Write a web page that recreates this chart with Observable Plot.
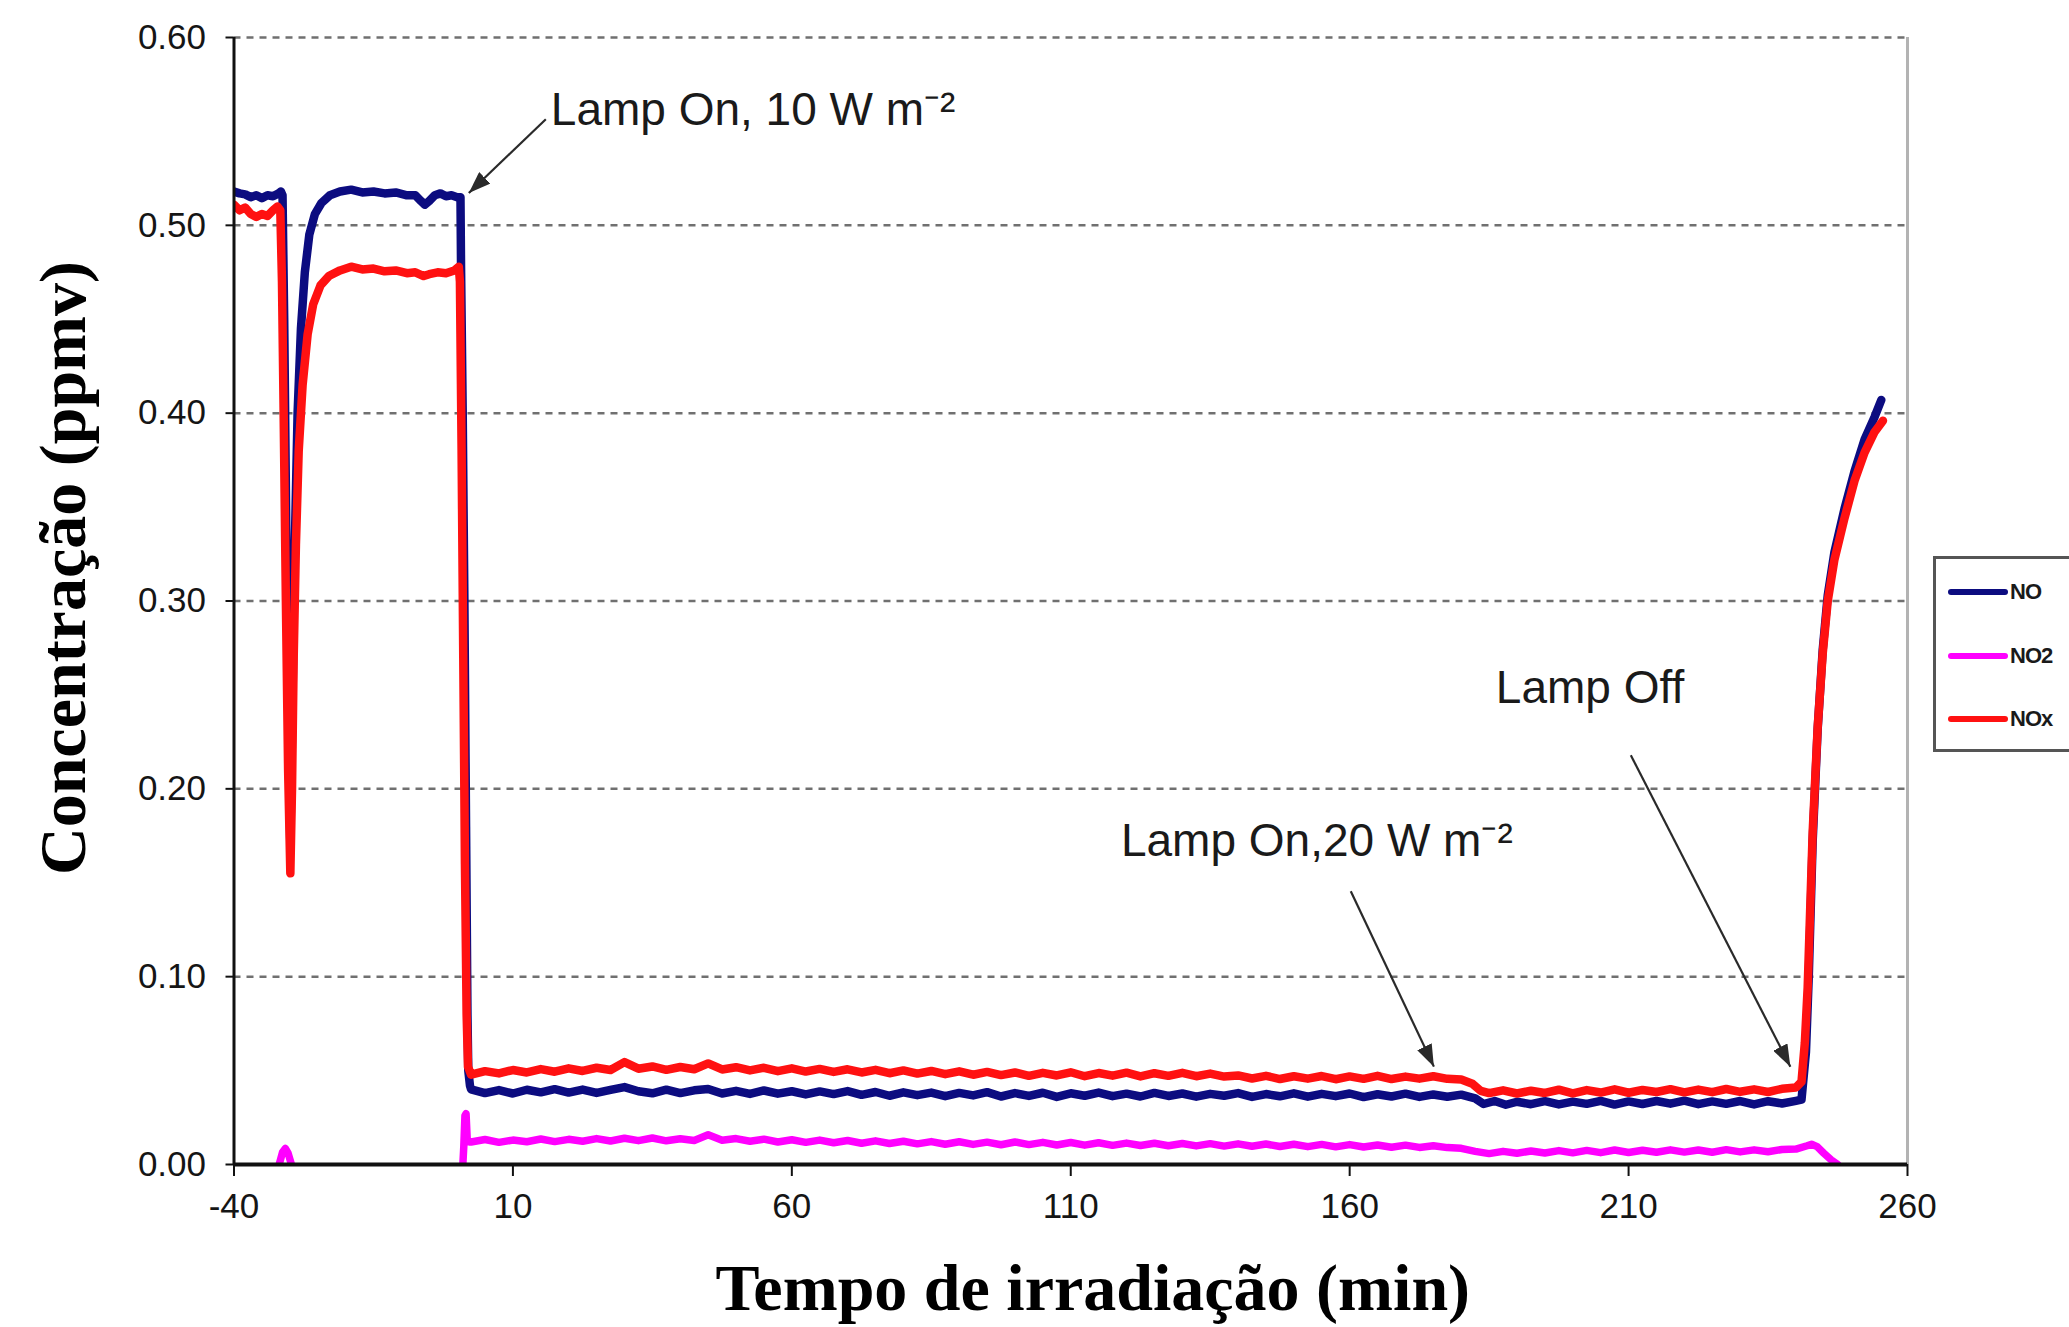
<!DOCTYPE html>
<html>
<head>
<meta charset="utf-8">
<script src="https://cdn.jsdelivr.net/npm/d3@7"></script>
<script src="https://cdn.jsdelivr.net/npm/@observablehq/plot@0.6"></script>
<style>
  html, body { margin: 0; padding: 0; background: #fff; overflow: hidden; }
  #wrap { position: relative; width: 2069px; height: 1327px; overflow: hidden; background: #fff; }
  #legend { position: absolute; left: 1933px; top: 556px; width: 170px; height: 190px;
            border: 3px solid #555; background: #fff; font-family: "Liberation Sans", Arial, sans-serif; }
  .lg-row { position: absolute; left: 12px; height: 0; }
  .lg-line { position: absolute; left: 0; top: -3px; width: 60px; height: 6px; border-radius: 3px; }
  .lg-text { position: absolute; left: 62px; top: -13px; font-size: 22px; letter-spacing: -1px; color: #1a1a1a; line-height: 26px; font-weight: bold; }
</style>
</head>
<body>
<div id="wrap"></div>
<script>
// ---------------- data ----------------
const xTicks = [-40, 10, 60, 110, 160, 210, 260];
const yTicks = [0, 0.1, 0.2, 0.3, 0.4, 0.5, 0.6];
const gridValues = [0.1, 0.2, 0.3, 0.4, 0.5, 0.6];

const seriesNames = ["NO", "NO2", "NOx"];
const seriesColors = ["#0c0c80", "#ff00ff", "#ff1111"];

// NO  [time (min), concentration (ppmv)]
const NO = [
  [-40,0.518],[-39,0.517],[-38,0.5165],[-37,0.515],[-36,0.516],[-35,0.5145],[-34,0.516],[-33,0.5155],[-32,0.517],[-31.6,0.518],[-31.3,0.516],
  [-31.0,0.45],[-30.6,0.33],[-30.2,0.22],[-29.9,0.17],
  [-29.5,0.25],[-29.1,0.33],[-28.6,0.40],[-28.0,0.445],[-27.3,0.475],[-26.5,0.495],[-25.5,0.506],[-24.3,0.512],[-22.8,0.516],
  [-21,0.518],[-19,0.519],[-17,0.5175],[-15,0.518],[-13,0.517],[-11,0.5175],[-9,0.516],[-7.5,0.516],[-6.5,0.513],[-5.8,0.511],
  [-5.0,0.513],[-4,0.516],[-3,0.517],[-2,0.5155],[-1,0.516],[0,0.515],[0.6,0.515],
  [0.7,0.478],[1.0,0.40],[1.3,0.30],[1.6,0.18],[1.85,0.08],[2.0,0.05],[2.3,0.042],
  [2.5,0.0400],[5,0.0380],[7.5,0.0396],[10,0.0378],[12.5,0.0398],[15,0.0384],[17.5,0.0401],[20,0.0383],[22.5,0.0399],[25,0.0381],
  [27.5,0.0397],[30,0.0412],[32.5,0.0390],[35,0.0379],[37.5,0.0398],[40,0.0380],[42.5,0.0395],[45,0.0402],[47.5,0.0378],[50,0.0392],
  [52.5,0.0376],[55,0.0394],[57.5,0.0377],[60,0.0390],[62.5,0.0373],[65,0.0389],[67.5,0.0375],[70,0.0391],[72.5,0.0371],[75,0.0386],
  [77.5,0.0366],[80,0.0384],[82.5,0.0369],[85,0.0383],[87.5,0.0364],[90,0.0381],[92.5,0.0368],[95,0.0385],[97.5,0.0362],[100,0.0380],
  [102.5,0.0365],[105,0.0382],[107.5,0.0360],[110,0.0379],[112.5,0.0366],[115,0.0383],[117.5,0.0364],[120,0.0377],[122.5,0.0362],[125,0.0381],
  [127.5,0.0365],[130,0.0378],[132.5,0.0361],[135,0.0376],[137.5,0.0366],[140,0.0380],[142.5,0.0360],[145,0.0375],[147.5,0.0363],[150,0.0379],
  [152.5,0.0361],[155,0.0376],[157.5,0.0364],[160,0.0378],[162.5,0.0359],[165,0.0374],[167.5,0.0362],[170,0.0377],[172.5,0.0360],[175,0.0373],
  [177.5,0.0361],[180,0.0372],[182.5,0.0352],[184,0.0322],[186,0.0338],[188,0.0318],[190,0.0334],[192.5,0.0321],[195,0.0337],[197.5,0.0320],
  [200,0.0335],[202.5,0.0323],[205,0.0339],[207.5,0.0319],[210,0.0336],[212.5,0.0322],[215,0.0338],[217.5,0.0324],[220,0.0340],[222.5,0.0321],
  [225,0.0336],[227.5,0.0323],[230,0.0338],[232.5,0.0320],[235,0.0337],[237.5,0.0325],[240,0.0339],[241,0.0345],
  [241.8,0.060],[242.3,0.10],[243,0.172],[243.9,0.232],[244.8,0.274],[245.7,0.303],[246.9,0.326],[248.7,0.349],[250.5,0.369],[252.3,0.386],[254.1,0.398],[255.3,0.407]
];

// NO2
const NO2 = [
  [-40,-0.007],[-32.4,-0.007],[-31.9,0.0],[-31.3,0.0065],[-30.8,0.0085],[-30.3,0.006],[-29.7,0.0],[-29.2,-0.007],
  [0.9,-0.007],[1.2,0.010],[1.4,0.026],[1.6,0.027],[1.8,0.014],[2.2,0.012],
  [2.5,0.0120],[5,0.0133],[7.5,0.0118],[10,0.0130],[12.5,0.0121],[15,0.0136],[17.5,0.0122],[20,0.0134],[22.5,0.0124],[25,0.0138],
  [27.5,0.0125],[30,0.0140],[32.5,0.0127],[35,0.0141],[37.5,0.0126],[40,0.0137],[42.5,0.0128],[45,0.0158],[47.5,0.0129],[50,0.0138],
  [52.5,0.0124],[55,0.0135],[57.5,0.0120],[60,0.0132],[62.5,0.0118],[65,0.0130],[67.5,0.0116],[70,0.0128],[72.5,0.0113],[75,0.0126],
  [77.5,0.0112],[80,0.0124],[82.5,0.0110],[85,0.0122],[87.5,0.0108],[90,0.0121],[92.5,0.0107],[95,0.0119],[97.5,0.0105],[100,0.0120],
  [102.5,0.0106],[105,0.0118],[107.5,0.0104],[110,0.0117],[112.5,0.0103],[115,0.0116],[117.5,0.0102],[120,0.0114],[122.5,0.0101],[125,0.0113],
  [127.5,0.0100],[130,0.0112],[132.5,0.0099],[135,0.0111],[137.5,0.0098],[140,0.0110],[142.5,0.0097],[145,0.0109],[147.5,0.0096],[150,0.0108],
  [152.5,0.0095],[155,0.0107],[157.5,0.0094],[160,0.0106],[162.5,0.0093],[165,0.0104],[167.5,0.0092],[170,0.0103],[172.5,0.0091],[175,0.0100],
  [177.5,0.0090],[180,0.0086],[182.5,0.0070],[185,0.0058],[187.5,0.0070],[190,0.0060],[192.5,0.0072],[195,0.0061],[197.5,0.0074],[200,0.0062],
  [202.5,0.0075],[205,0.0063],[207.5,0.0077],[210,0.0064],[212.5,0.0076],[215,0.0065],[217.5,0.0078],[220,0.0066],[222.5,0.0077],[225,0.0065],
  [227.5,0.0079],[230,0.0067],[232.5,0.0078],[235,0.0068],[237.5,0.0080],[240,0.0082],[242,0.0100],[242.8,0.0108],[243.8,0.0095],
  [245,0.0060],[246.3,0.0025],[247.5,0.0],[248.5,-0.007],[255.5,-0.007]
];

// NOx
const NOx = [
  [-40,0.511],[-39,0.508],[-38,0.5095],[-37,0.506],[-36,0.5045],[-35,0.506],[-34,0.505],[-33,0.508],[-32.2,0.510],[-31.7,0.508],
  [-31.4,0.47],[-31.1,0.40],[-30.7,0.30],[-30.3,0.21],[-29.9,0.155],
  [-29.6,0.20],[-29.3,0.27],[-28.9,0.33],[-28.4,0.38],[-27.7,0.415],[-26.8,0.442],[-25.8,0.458],[-24.5,0.468],[-23,0.473],
  [-21,0.476],[-19,0.478],[-17,0.4765],[-15,0.477],[-13,0.4755],[-11,0.476],[-9,0.4745],[-7.5,0.475],[-6,0.473],[-5,0.474],
  [-3.5,0.475],[-2,0.4745],[-0.5,0.476],[0.3,0.478],
  [0.5,0.47],[0.8,0.38],[1.1,0.27],[1.4,0.16],[1.7,0.08],[1.95,0.052],
  [2.5,0.0478],[5,0.0497],[7.5,0.0485],[10,0.0503],[12.5,0.0490],[15,0.0508],[17.5,0.0494],[20,0.0512],[22.5,0.0498],[25,0.0515],
  [27.5,0.0503],[30,0.0545],[32.5,0.0510],[35,0.0522],[37.5,0.0504],[40,0.0519],[42.5,0.0507],[45,0.0538],[47.5,0.0506],[50,0.0518],
  [52.5,0.0501],[55,0.0515],[57.5,0.0497],[60,0.0512],[62.5,0.0495],[65,0.0509],[67.5,0.0493],[70,0.0507],[72.5,0.0490],[75,0.0504],
  [77.5,0.0486],[80,0.0501],[82.5,0.0484],[85,0.0498],[87.5,0.0481],[90,0.0496],[92.5,0.0478],[95,0.0493],[97.5,0.0476],[100,0.0490],
  [102.5,0.0472],[105,0.0488],[107.5,0.0474],[110,0.0491],[112.5,0.0470],[115,0.0487],[117.5,0.0473],[120,0.0489],[122.5,0.0469],[125,0.0486],
  [127.5,0.0472],[130,0.0488],[132.5,0.0470],[135,0.0484],[137.5,0.0468],[140,0.0474],[142.5,0.0458],[145,0.0472],[147.5,0.0455],[150,0.0470],
  [152.5,0.0457],[155,0.0471],[157.5,0.0454],[160,0.0469],[162.5,0.0456],[165,0.0472],[167.5,0.0455],[170,0.0468],[172.5,0.0457],[175,0.0470],
  [177.5,0.0456],[180,0.0452],[182,0.0430],[183.5,0.0392],[185,0.0380],[187.5,0.0395],[190,0.0378],[192.5,0.0393],[195,0.0381],[197.5,0.0398],
  [200,0.0379],[202.5,0.0396],[205,0.0383],[207.5,0.0400],[210,0.0382],[212.5,0.0397],[215,0.0386],[217.5,0.0401],[220,0.0384],[222.5,0.0399],
  [225,0.0385],[227.5,0.0402],[230,0.0387],[232.5,0.0400],[235,0.0386],[237.5,0.0403],[240,0.0410],[241,0.0440],
  [241.6,0.065],[242.1,0.094],[243,0.177],[243.9,0.233],[244.8,0.272],[245.7,0.300],[246.9,0.322],[248.7,0.344],[250.5,0.364],[252.3,0.379],[254.1,0.390],[255.6,0.396]
];

// annotations
const noteLabels = ["Lamp On, 10 W m\u207B\u00B2", "Lamp On,20 W m\u207B\u00B2", "Lamp Off"];
const noteT = [16.8, 119.0, 186.2];
const noteV = [0.5614, 0.1722, 0.2537];
const arrowT1 = [15.9, 160.2, 210.4];
const arrowV1 = [0.5565, 0.1455, 0.2179];
const arrowT2 = [2.1, 175.1, 239.0];
const arrowV2 = [0.5172, 0.0521, 0.0521];

const xTitle = "Tempo de irradiação (min)";
const yTitle = "Concentração (ppmv)";

// ---------------- chart ----------------
const notes = noteLabels.map((label, i) => ({label, t: noteT[i], v: noteV[i]}));
const arrows = arrowT1.map((t1, i) => ({t1, v1: arrowV1[i], t2: arrowT2[i], v2: arrowV2[i]}));
const seriesData = [NO, NO2, NOx];
const seriesWidths = [8.5, 7.5, 8.5];

function arrowHead(color, context) {
  const doc = (context && context.document) || document;
  const ns = "http://www.w3.org/2000/svg";
  const m = doc.createElementNS(ns, "marker");
  m.setAttribute("viewBox", "0 -4 11 8");
  m.setAttribute("refX", "11");
  m.setAttribute("refY", "0");
  m.setAttribute("markerWidth", "22");
  m.setAttribute("markerHeight", "16");
  m.setAttribute("markerUnits", "userSpaceOnUse");
  m.setAttribute("orient", "auto");
  const p = doc.createElementNS(ns, "path");
  p.setAttribute("d", "M0,-4L11,0L0,4Z");
  p.setAttribute("fill", color);
  p.setAttribute("stroke", "none");
  m.appendChild(p);
  return m;
}

function build(useMarker) {
  const arrowMark = useMarker
    ? Plot.link(arrows, {x1: "t1", y1: "v1", x2: "t2", y2: "v2", stroke: "#2a2a2a", strokeWidth: 2.2, markerEnd: arrowHead})
    : Plot.arrow(arrows, {x1: "t1", y1: "v1", x2: "t2", y2: "v2", stroke: "#2a2a2a", strokeWidth: 2.2, headLength: 18});
  return Plot.plot({
    width: 2069,
    height: 1327,
    marginLeft: 233.5,
    marginRight: 162,
    marginTop: 37,
    marginBottom: 163,
    x: {domain: [-40, 260]},
    y: {domain: [0, 0.6]},
    style: {fontFamily: "'Liberation Sans', Arial, sans-serif", fontSize: "35px", color: "#151515", background: "#fff", overflow: "visible"},
    marks: [
      Plot.ruleY(gridValues, {stroke: "#707070", strokeWidth: 2.5, strokeDasharray: "7,6"}),
      ...seriesData.map((s, i) => Plot.line(s, {x: d => d[0], y: d => d[1], stroke: seriesColors[i], strokeWidth: seriesWidths[i], strokeLinejoin: "round", strokeLinecap: "round", clip: true})),
      Plot.ruleX([260], {stroke: "#b3b3b3", strokeWidth: 3}),
      Plot.ruleX([-40], {stroke: "#111", strokeWidth: 3}),
      Plot.ruleY([0], {stroke: "#111", strokeWidth: 4}),
      Plot.axisY({ticks: yTicks, tickFormat: d => d.toFixed(2), tickSize: 8, tickPadding: 20, stroke: "#111", strokeWidth: 2, label: null}),
      Plot.axisX({ticks: xTicks, tickFormat: d => String(d), tickSize: 12, tickPadding: 17, stroke: "#111", strokeWidth: 2, label: null}),
      arrowMark,
      Plot.text(notes, {x: "t", y: "v", text: "label", textAnchor: "start", lineAnchor: "middle", fontSize: 46, fill: "#1a1a1a"}),
      Plot.text([yTitle], {frameAnchor: "left", textAnchor: "middle", lineAnchor: "middle", dx: -170, dy: -33, rotate: -90, fontSize: 66, fontWeight: "bold", fontFamily: "'Liberation Serif', 'Times New Roman', serif", fill: "#000"}),
      Plot.text([xTitle], {frameAnchor: "bottom", textAnchor: "middle", lineAnchor: "middle", dx: 22, dy: 124, fontSize: 66, fontWeight: "bold", fontFamily: "'Liberation Serif', 'Times New Roman', serif", fill: "#000"})
    ]
  });
}

let chart;
try { chart = build(true); } catch (e) { chart = build(false); }
const wrap = document.getElementById("wrap");
wrap.appendChild(chart);

// legend (HTML, placed to the right of the plot frame)
const legend = document.createElement("div");
legend.id = "legend";
const rowTops = [33, 97, 160];
seriesNames.forEach((name, i) => {
  const row = document.createElement("div");
  row.className = "lg-row";
  row.style.top = rowTops[i] + "px";
  const line = document.createElement("div");
  line.className = "lg-line";
  line.style.background = seriesColors[i];
  const txt = document.createElement("div");
  txt.className = "lg-text";
  txt.textContent = name;
  row.appendChild(line);
  row.appendChild(txt);
  legend.appendChild(row);
});
wrap.appendChild(legend);
</script>
</body>
</html>
